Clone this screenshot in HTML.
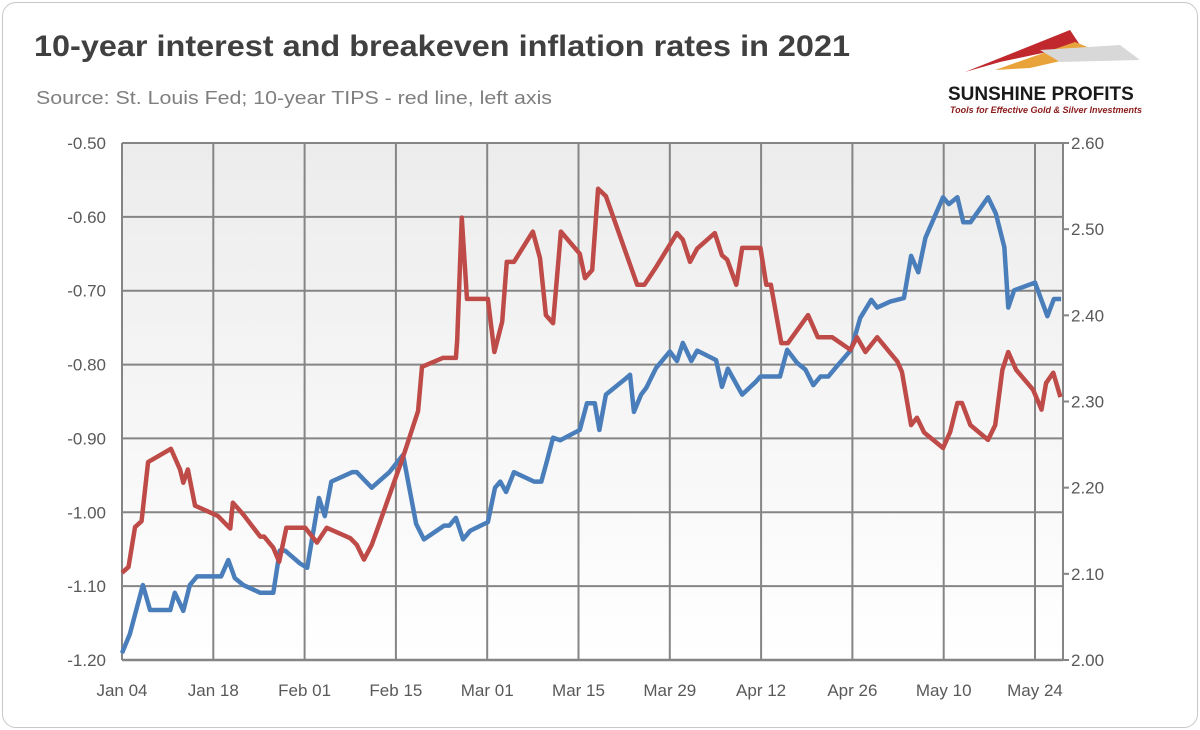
<!DOCTYPE html>
<html><head><meta charset="utf-8"><style>
html,body{margin:0;padding:0;background:#fff;}
body{width:1200px;height:730px;overflow:hidden;font-family:"Liberation Sans",sans-serif;}
#frame{position:absolute;left:2px;top:2px;width:1194px;height:724px;border:1px solid #c8c8c8;border-radius:14px;}
</style></head><body>
<div id="frame"></div>
<svg id="chart" width="1200" height="730" style="position:absolute;left:0;top:0">
<defs><linearGradient id="bg" x1="0" y1="0" x2="0" y2="1"><stop offset="0" stop-color="#ececec"/><stop offset="1" stop-color="#ffffff"/></linearGradient></defs>
<text x="34" y="56" font-size="30" font-weight="bold" fill="#404040" textLength="816" lengthAdjust="spacingAndGlyphs">10-year interest and breakeven inflation rates in 2021</text>
<text x="36" y="104" font-size="18" fill="#7f7f7f" textLength="516" lengthAdjust="spacingAndGlyphs">Source: St. Louis Fed; 10-year TIPS - red line, left axis</text>
<g>
<polygon points="965,72 1070,30 1080,45 1000,62" fill="#c0282d"/>
<polygon points="995,70 1075,42 1100,52 1030,68" fill="#e8a33a"/>
<polygon points="1040,50 1120,45 1140,60 1060,62" fill="#d8d8d8"/>
<text x="948" y="100" font-size="19" font-weight="bold" fill="#1a1a1a">SUNSHINE PROFITS</text>
<text x="950" y="113" font-size="9" font-style="italic" font-weight="bold" fill="#8b1a1a">Tools for Effective Gold &amp; Silver Investments</text>
</g>
<rect x="122" y="143" width="941" height="517" fill="url(#bg)"/>
<g id="grid"></g><g id="axes"></g><g id="series"></g>
</svg>
<script>
const leftTicks=["-0.50","-0.60","-0.70","-0.80","-0.90","-1.00","-1.10","-1.20"];
const rightTicks=["2.60","2.50","2.40","2.30","2.20","2.10","2.00"];
const xLabels=["Jan 04","Jan 18","Feb 01","Feb 15","Mar 01","Mar 15","Mar 29","Apr 12","Apr 26","May 10","May 24"];
const tipsDays=[0,1,2,3,4,7.5,8.9,9.4,10.1,11.2,14.7,16.6,17,18.6,21.2,21.8,23.2,24.1,25.2,28.1,29.9,31.4,35,36,37.1,38.3,39.6,43.1,45.4,46,49.2,51.2,51.4,52.1,52.9,56.1,57.1,58.3,59,60.1,63,64.1,65,66.1,67.3,70.2,71,72.1,73,74.2,79,80.1,81.9,85.1,86,87.1,88.2,90.9,92,92.8,94.2,95.1,97.9,98.8,99.5,101.1,102.1,105.2,106.7,108.9,111.7,112.7,114,115.8,118.9,119.6,121,121.9,123,125.9,127,128.1,128.8,130.1,132.8,133.9,135,135.9,137.1,139.7,141,141.7,142.8,143.9];
const tipsValues=[-1.082,-1.074,-1.020,-1.012,-0.932,-0.914,-0.942,-0.960,-0.942,-0.991,-1.005,-1.022,-0.987,-1.003,-1.033,-1.033,-1.048,-1.067,-1.021,-1.021,-1.041,-1.021,-1.035,-1.044,-1.064,-1.044,-1.012,-0.925,-0.863,-0.803,-0.791,-0.791,-0.767,-0.601,-0.711,-0.711,-0.783,-0.742,-0.661,-0.661,-0.620,-0.656,-0.733,-0.744,-0.620,-0.650,-0.683,-0.672,-0.562,-0.572,-0.692,-0.692,-0.668,-0.622,-0.631,-0.661,-0.643,-0.622,-0.652,-0.658,-0.692,-0.642,-0.642,-0.692,-0.692,-0.771,-0.771,-0.733,-0.763,-0.763,-0.780,-0.763,-0.783,-0.763,-0.796,-0.810,-0.882,-0.872,-0.892,-0.913,-0.891,-0.852,-0.852,-0.882,-0.902,-0.882,-0.807,-0.783,-0.807,-0.834,-0.861,-0.825,-0.811,-0.844];
const beDays=[0,1.2,3.2,4.3,7.4,8.1,9.4,10.4,11.5,15.2,16.3,17.3,18.6,21.2,23.2,24.2,25,27.3,28.4,30.2,31.1,32.1,35.3,36,38.3,41,43.1,45.1,46.3,49.4,50.2,51.2,52.3,53.4,56.1,57.2,58,58.9,60.1,63.2,64.3,65.2,66.1,67.2,70.2,71.3,72.5,73.2,74.2,77.3,77.9,78.5,79.6,80.4,81.9,84,85.1,86,87.3,88.2,91.1,92,92.9,95.1,97.2,97.9,100.9,102,103.5,104.8,106,107.1,108.3,109.4,111.8,113.2,114.9,115.8,117.8,119.9,121,122.1,123.2,125.9,126.8,128.1,129,130.1,132.8,134,135.3,135.9,136.8,140,141.9,142.9,144];
const beValues=[2.008,2.030,2.087,2.058,2.058,2.078,2.057,2.087,2.097,2.097,2.116,2.095,2.087,2.078,2.078,2.127,2.127,2.112,2.107,2.188,2.167,2.207,2.218,2.218,2.200,2.218,2.238,2.158,2.140,2.156,2.156,2.165,2.140,2.150,2.160,2.200,2.207,2.195,2.218,2.207,2.207,2.232,2.258,2.255,2.267,2.298,2.298,2.267,2.308,2.327,2.331,2.288,2.308,2.316,2.339,2.358,2.347,2.368,2.347,2.359,2.348,2.317,2.338,2.308,2.323,2.329,2.329,2.360,2.345,2.337,2.319,2.329,2.329,2.339,2.360,2.397,2.418,2.409,2.416,2.420,2.469,2.450,2.490,2.537,2.529,2.537,2.508,2.508,2.537,2.518,2.479,2.409,2.429,2.438,2.399,2.419,2.419];

const NS="http://www.w3.org/2000/svg";
const X0=122,X1=1063,Y0=143,Y1=660;
const xs=d=>X0+d*(913/140);
const yL=v=>Y0+(-0.5-v)/0.7*(Y1-Y0);
const yR=v=>Y0+(2.6-v)/0.6*(Y1-Y0);
function mk(tag,attrs,parent){const e=document.createElementNS(NS,tag);for(const k in attrs)e.setAttribute(k,attrs[k]);parent.appendChild(e);return e;}
const grid=document.getElementById('grid'),axes=document.getElementById('axes'),series=document.getElementById('series');
leftTicks.forEach(t=>{const y=yL(parseFloat(t));
 const l=mk('line',{x1:X0,x2:X1,y1:y,y2:y,stroke:'#858585','stroke-width':2},grid);
 
 
 const tx=mk('text',{x:106,y:y+6,'text-anchor':'end','font-size':17,fill:'#595959'},axes);tx.textContent=t;
 
 
});
rightTicks.forEach(t=>{const y=yR(parseFloat(t));
 const l=mk('line',{x1:X1,x2:X1+6,y1:y,y2:y,stroke:'#858585','stroke-width':2},axes);
 
 
 const tx=mk('text',{x:1071,y:y+6,'font-size':17,fill:'#595959'},axes);tx.textContent=t;
 
 
});
xLabels.forEach((t,i)=>{const x=xs(i*14);
 const l=mk('line',{x1:x,x2:x,y1:Y0,y2:Y1,stroke:'#858585','stroke-width':2},grid);
 
 
 const tx=mk('text',{x:x,y:696,'text-anchor':'middle','font-size':17,fill:'#595959'},axes);tx.textContent=t;
 
 
});
const ax=mk('line',{x1:X1,x2:X1,y1:Y0,y2:Y1,stroke:'#858585','stroke-width':2},axes);


const bx=mk('line',{x1:X0,x2:X1,y1:Y1,y2:Y1,stroke:'#858585','stroke-width':2.5},axes);


const bp=mk('polyline',{points:beDays.map((d,i)=>xs(d)+','+yR(beValues[i])).join(' '),fill:'none',stroke:'#4a7ebb','stroke-width':4.5,'stroke-linejoin':'round'},series);


const rp=mk('polyline',{points:tipsDays.map((d,i)=>xs(d)+','+yL(tipsValues[i])).join(' '),fill:'none',stroke:'#be4b48','stroke-width':4.5,'stroke-linejoin':'round'},series);


</script>
</body></html>
